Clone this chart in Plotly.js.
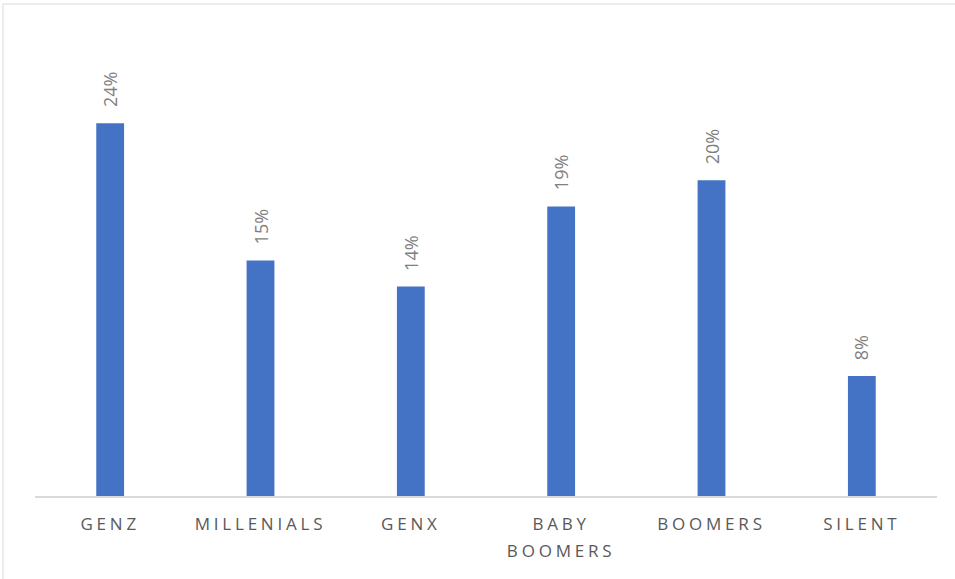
<!DOCTYPE html>
<html>
<head>
<meta charset="utf-8">
<script src="https://cdn.plot.ly/plotly-3.0.1.min.js"></script>
<style>
html,body{margin:0;padding:0;background:#fff;}
#chart{width:955px;height:579px;}
.xtick text{letter-spacing:3.8px;}
</style>
</head>
<body>
<div id="chart"></div>
<script>
const categories = ["GENZ", "MILLENIALS", "GENX", "BABY<br>BOOMERS", "BOOMERS", "SILENT"];
const shares = [0.242, 0.153, 0.136, 0.188, 0.205, 0.078];
const labels = ["24%", "15%", "14%", "19%", "20%", "8%"];

const trace = {
  type: "bar",
  x: categories,
  y: shares,
  marker: {color: "#4472c4"},
  width: 0.185,
  hoverinfo: "skip"
};

const annotations = categories.map((c, i) => ({
  x: c, y: shares[i], xref: "x", yref: "y",
  text: labels[i], showarrow: false, textangle: -90,
  xanchor: "center", yanchor: "bottom", yshift: 14,
  font: {family: "Open Sans, Noto Sans, sans-serif", size: 18, color: "#7f7f7f"}
}));

const layout = {
  width: 955, height: 579,
  margin: {l: 35, r: 18, t: 34, b: 83},
  paper_bgcolor: "#ffffff", plot_bgcolor: "#ffffff",
  showlegend: false,
  xaxis: {
    type: "category",
    showline: true, linecolor: "#d9d9d9", linewidth: 1.5,
    showgrid: false, zeroline: false, ticks: "",
    ticklabelstandoff: 12,
    tickfont: {family: "Open Sans, Noto Sans, sans-serif", size: 17, color: "#595959"}
  },
  yaxis: {
    range: [0, 0.30], visible: false, showgrid: false, zeroline: false, fixedrange: true
  },
  annotations: annotations,
  shapes: [{
    type: "rect", xref: "paper", yref: "paper",
    x0: -0.0355, x1: 1.1, y0: -0.4, y1: 1.065,
    line: {color: "#d9d9d9", width: 1}, fillcolor: "rgba(0,0,0,0)", layer: "below"
  }]
};

Plotly.newPlot("chart", [trace], layout, {displayModeBar: false, staticPlot: true}).then(gd => {
  gd.querySelectorAll(".xtick text tspan.line").forEach((t, k) => {
    if (t.getAttribute("dy") && t.getAttribute("dy") !== "0em" && parseFloat(t.getAttribute("dy")) > 0) {
      t.setAttribute("dy", "1.6em");
    }
  });
});
</script>
</body>
</html>
